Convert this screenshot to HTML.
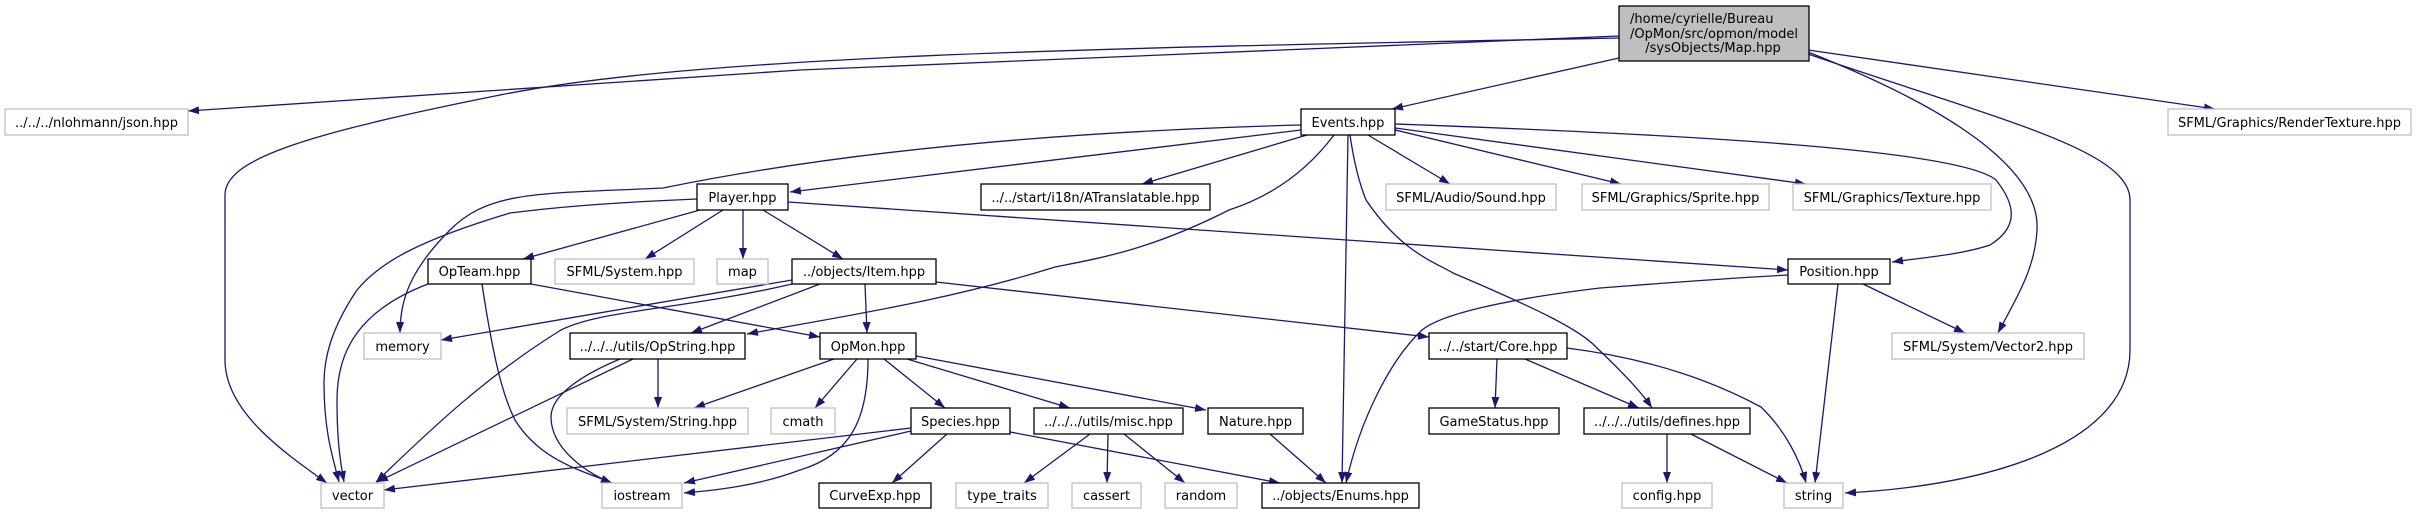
<!DOCTYPE html>
<html><head><meta charset="utf-8"><style>
html,body{margin:0;padding:0;background:#fff;}
svg{display:block;}
text{font-family:"DejaVu Sans","Liberation Sans",sans-serif;font-size:13px;fill:#000;}
.e{fill:none;stroke:#191970;stroke-width:1.3;marker-end:url(#a);}
.g{fill:#fff;stroke:#bfbfbf;stroke-width:1.3;}
.b{fill:#fff;stroke:#000;stroke-width:1.3;}
</style></head><body>
<svg width="2417" height="515" viewBox="0 0 2417 515" xmlns="http://www.w3.org/2000/svg">
<defs><marker id="a" markerUnits="userSpaceOnUse" markerWidth="11" markerHeight="8" viewBox="0 0 11 8" refX="11" refY="4" orient="auto"><path d="M0,0 L11,4 L0,8 z" fill="#191970"/></marker></defs>

<!-- edges from Map -->
<path class="e" d="M1619,36 L800,70 L188,111"/>
<path class="e" d="M1619,38 C1100,48 700,55 500,95 C300,135 225,160 225,195 L225,360 C225,410 280,450 327,483"/>
<path class="e" d="M1619,58 L1392,109"/>
<path class="e" d="M1808,50 L2215,109"/>
<path class="e" d="M1808,52 C1980,120 2040,180 2037,230 C2035,270 2015,300 1998,333"/>
<path class="e" d="M1808,54 C2000,120 2130,150 2130,200 L2130,350 C2130,440 2000,485 1845,493"/>

<!-- edges from Events -->
<path class="e" d="M1301,125 C1000,133 800,160 663,188 C540,194 490,190 450,230 C410,270 400,300 400,333"/>
<path class="e" d="M1301,130 L790,192"/>
<path class="e" d="M1307,135 L1142,184"/>
<path class="e" d="M1334,135 C1300,180 1260,200 1229,210 C1150,250 1100,258 1055,267 C950,300 850,315 747,334"/>
<path class="e" d="M1348,135 L1342,483"/>
<path class="e" d="M1350,135 C1355,170 1362,190 1366,200 C1400,250 1430,260 1453,273 C1540,310 1580,330 1596,347 C1620,370 1640,390 1652,408"/>
<path class="e" d="M1368,135 L1450,184"/>
<path class="e" d="M1395,130 L1621,184"/>
<path class="e" d="M1395,128 L1806,184"/>
<path class="e" d="M1395,124 C1700,135 1960,150 1996,180 C2020,210 2014,230 1990,245 C1960,255 1920,258 1892,262"/>

<!-- Player -->
<path class="e" d="M697,199 C600,203 550,208 510,213 C420,240 380,262 357,290 C330,330 324,360 324,383 C324,430 332,455 339,482"/>
<path class="e" d="M700,210 L523,259"/>
<path class="e" d="M723,210 L645,259"/>
<path class="e" d="M743,210 L743,259"/>
<path class="e" d="M763,210 L843,259"/>
<path class="e" d="M788,202 L1788,270"/>

<!-- OpTeam -->
<path class="e" d="M428,284 C360,310 337,350 337,400 C337,440 340,460 344,482"/>
<path class="e" d="M482,284 C495,370 505,400 515,420 C540,460 580,470 612,483"/>
<path class="e" d="M531,284 L820,337"/>

<!-- Item -->
<path class="e" d="M792,280 L441,340"/>
<path class="e" d="M792,284 C680,310 600,310 561,330 C480,380 420,440 376,482"/>
<path class="e" d="M820,284 L691,333"/>
<path class="e" d="M865,284 L867,333"/>
<path class="e" d="M936,282 L1429,337"/>

<!-- OpString -->
<path class="e" d="M658,359 L658,408"/>
<path class="e" d="M633,359 L377,482"/>
<path class="e" d="M620,359 C570,380 551,400 551,417 C551,450 590,475 612,483"/>

<!-- OpMon -->
<path class="e" d="M834,359 L694,408"/>
<path class="e" d="M857,359 L815,408"/>
<path class="e" d="M868,359 C868,420 850,455 800,470 C760,485 720,490 684,493"/>
<path class="e" d="M884,359 L945,408"/>
<path class="e" d="M907,359 L1070,408"/>
<path class="e" d="M916,356 L1206,410"/>

<!-- Species -->
<path class="e" d="M911,428 L384,490"/>
<path class="e" d="M911,431 L684,483"/>
<path class="e" d="M947,434 L892,483"/>
<path class="e" d="M1010,432 L1280,483"/>

<!-- misc -->
<path class="e" d="M1090,434 L1024,483"/>
<path class="e" d="M1108,434 L1107,483"/>
<path class="e" d="M1124,434 L1185,483"/>
<path class="e" d="M1270,434 L1326,483"/>

<!-- Core -->
<path class="e" d="M1497,359 L1495,408"/>
<path class="e" d="M1525,359 L1639,408"/>
<path class="e" d="M1567,348 C1660,360 1720,385 1761,407 C1785,430 1800,460 1806,483"/>

<!-- defines -->
<path class="e" d="M1667,434 L1667,483"/>
<path class="e" d="M1691,434 L1787,483"/>

<!-- Position -->
<path class="e" d="M1788,275 C1700,280 1640,285 1600,288 C1500,300 1440,315 1422,330 C1390,360 1360,420 1346,483"/>
<path class="e" d="M1863,284 L1965,333"/>
<path class="e" d="M1838,284 L1815,483"/>

<!-- nodes -->
<rect x="1619" y="6" width="190" height="55" fill="#bfbfbf" stroke="#000" stroke-width="1.3"/>
<text x="1630" y="23">/home/cyrielle/Bureau</text>
<text x="1630" y="38">/OpMon/src/opmon/model</text>
<text x="1713" y="52" text-anchor="middle">/sysObjects/Map.hpp</text>

<g text-anchor="middle">
<rect class="g" x="5" y="109" width="183" height="26"/><text x="96.5" y="127">../../../nlohmann/json.hpp</text>
<rect class="b" x="1301" y="109" width="94" height="26"/><text x="1348" y="127">Events.hpp</text>
<rect class="g" x="2168" y="109" width="243" height="26"/><text x="2289.5" y="127">SFML/Graphics/RenderTexture.hpp</text>

<rect class="b" x="697" y="184" width="91" height="26"/><text x="742.5" y="202">Player.hpp</text>
<rect class="b" x="981" y="184" width="229" height="26"/><text x="1095.5" y="202">../../start/i18n/ATranslatable.hpp</text>
<rect class="g" x="1386" y="184" width="170" height="26"/><text x="1471" y="202">SFML/Audio/Sound.hpp</text>
<rect class="g" x="1582" y="184" width="187" height="26"/><text x="1675.5" y="202">SFML/Graphics/Sprite.hpp</text>
<rect class="g" x="1793" y="184" width="198" height="26"/><text x="1892" y="202">SFML/Graphics/Texture.hpp</text>

<rect class="b" x="428" y="259" width="103" height="25"/><text x="479.5" y="276">OpTeam.hpp</text>
<rect class="g" x="555" y="259" width="139" height="25"/><text x="624.5" y="276">SFML/System.hpp</text>
<rect class="g" x="717" y="259" width="51" height="25"/><text x="742.5" y="276">map</text>
<rect class="b" x="792" y="259" width="144" height="25"/><text x="864" y="276">../objects/Item.hpp</text>
<rect class="b" x="1788" y="259" width="102" height="25"/><text x="1839" y="276">Position.hpp</text>

<rect class="g" x="364" y="333" width="77" height="26"/><text x="402.5" y="351">memory</text>
<rect class="b" x="570" y="333" width="175" height="26"/><text x="657.5" y="351">../../../utils/OpString.hpp</text>
<rect class="b" x="820" y="333" width="96" height="26"/><text x="868" y="351">OpMon.hpp</text>
<rect class="b" x="1429" y="333" width="138" height="26"/><text x="1498" y="351">../../start/Core.hpp</text>
<rect class="g" x="1892" y="333" width="192" height="26"/><text x="1988" y="351">SFML/System/Vector2.hpp</text>

<rect class="g" x="567" y="408" width="181" height="26"/><text x="657.5" y="426">SFML/System/String.hpp</text>
<rect class="g" x="771" y="408" width="64" height="26"/><text x="803" y="426">cmath</text>
<rect class="b" x="911" y="408" width="99" height="26"/><text x="960.5" y="426">Species.hpp</text>
<rect class="b" x="1034" y="408" width="149" height="26"/><text x="1108.5" y="426">../../../utils/misc.hpp</text>
<rect class="b" x="1208" y="408" width="95" height="26"/><text x="1255.5" y="426">Nature.hpp</text>
<rect class="b" x="1429" y="408" width="130" height="26"/><text x="1494" y="426">GameStatus.hpp</text>
<rect class="b" x="1584" y="408" width="166" height="26"/><text x="1667" y="426">../../../utils/defines.hpp</text>

<rect class="g" x="321" y="483" width="63" height="25"/><text x="352.5" y="500">vector</text>
<rect class="g" x="602" y="483" width="80" height="25"/><text x="642" y="500">iostream</text>
<rect class="b" x="819" y="483" width="112" height="25"/><text x="875" y="500">CurveExp.hpp</text>
<rect class="g" x="956" y="483" width="92" height="25"/><text x="1002" y="500">type_traits</text>
<rect class="g" x="1072" y="483" width="69" height="25"/><text x="1106.5" y="500">cassert</text>
<rect class="g" x="1165" y="483" width="72" height="25"/><text x="1201" y="500">random</text>
<rect class="b" x="1262" y="483" width="157" height="25"/><text x="1340.5" y="500">../objects/Enums.hpp</text>
<rect class="g" x="1622" y="483" width="90" height="25"/><text x="1667" y="500">config.hpp</text>
<rect class="g" x="1784" y="483" width="59" height="25"/><text x="1813.5" y="500">string</text>
</g>
</svg>
</body></html>
